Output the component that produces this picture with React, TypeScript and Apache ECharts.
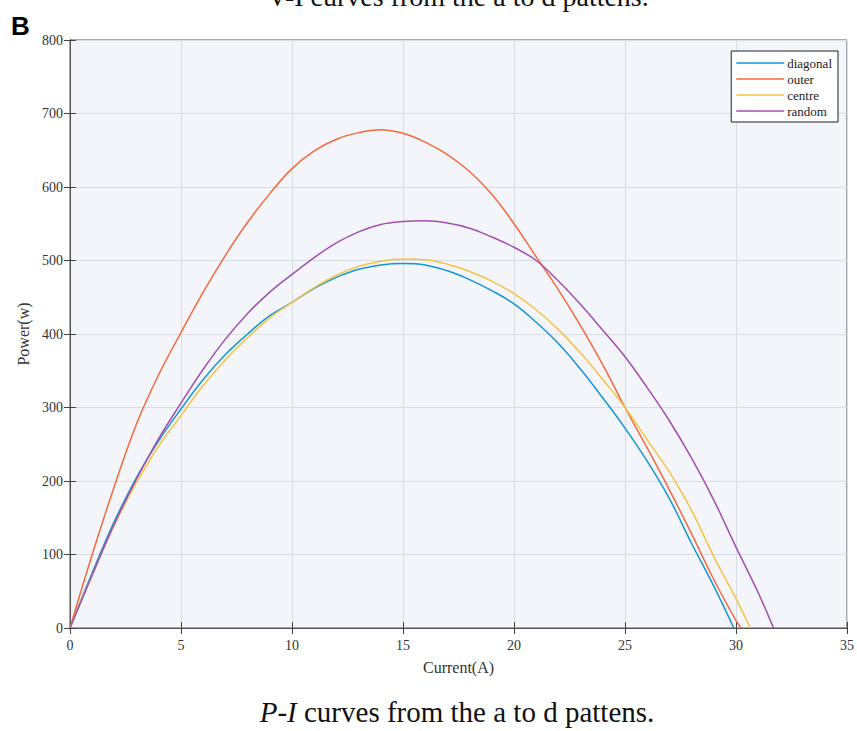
import React, { useEffect, useRef } from "react";
import * as echarts from "echarts";

const diagonalI = [0, 1, 2, 3, 4, 5, 6, 7, 8, 9, 10, 11, 12, 13, 14, 15, 16, 17, 18, 19, 20, 21, 22, 23, 24, 25, 26, 27, 28, 29, 29.9];
const diagonalP = [0, 75, 145, 205, 255, 298, 338, 372, 400, 425, 443, 462, 477, 488, 494, 496, 494, 486, 474, 459, 441, 416, 387, 352, 313, 272, 227, 176, 115, 57, 0];

const outerI = [0, 1, 2, 3, 4, 5, 6, 7, 8, 9, 10, 11, 12, 13, 14, 15, 16, 17, 18, 19, 20, 21, 22, 23, 24, 25, 26, 27, 28, 29, 30, 30.23];
const outerP = [0, 100, 193, 278, 345, 402, 457, 507, 552, 591, 625, 649, 665, 674, 678, 673, 661, 644, 621, 590, 550, 505, 460, 411, 358, 300, 245, 188, 128, 66, 10, 0];

const centreI = [0, 1, 2, 3, 4, 5, 6, 7, 8, 9, 10, 11, 12, 13, 14, 15, 16, 17, 18, 19, 20, 21, 22, 23, 24, 25, 26, 27, 28, 29, 30, 30.64];
const centreP = [0, 72, 140, 198, 248, 289, 330, 365, 395, 422, 443, 463, 480, 492, 499, 502, 501, 495, 485, 472, 455, 433, 406, 374, 338, 300, 256, 212, 160, 97, 40, 0];

const randomI = [0, 1, 2, 3, 4, 5, 6, 7, 8, 9, 10, 11, 12, 13, 14, 15, 16, 17, 18, 19, 20, 21, 22, 23, 24, 25, 26, 27, 28, 29, 30, 31, 31.69];
const randomP = [0, 72, 142, 203, 258, 306, 352, 393, 428, 457, 481, 504, 524, 539, 549, 553, 554, 551, 544, 532, 518, 500, 472, 440, 405, 369, 327, 282, 231, 174, 110, 48, 0];

const seriesNames = ["diagonal", "outer", "centre", "random"];
const seriesColors = ["#1496d4", "#f36a3c", "#f6c244", "#a24fae"];

const xTicks = { min: 0, max: 35, interval: 5 };
const yTicks = { min: 0, max: 800, interval: 100 };

const FONT = "Liberation Serif";

function pairs(xs: number[], ys: number[]) {
  return xs.map((x, i) => [x, ys[i]]);
}

export default function App() {
  const ref = useRef<HTMLDivElement>(null);
  useEffect(() => {
    if (!ref.current) return;
    const chart = echarts.init(ref.current, undefined, { renderer: "svg" });
    const datasets = [
      pairs(diagonalI, diagonalP),
      pairs(outerI, outerP),
      pairs(centreI, centreP),
      pairs(randomI, randomP),
    ];
    const axisLine = { show: true, lineStyle: { color: "#555", width: 1 } };
    const tick = { show: true, inside: true, length: 6, lineStyle: { color: "#444", width: 1 } };
    const split = { show: true, lineStyle: { color: "#d6dde3", width: 1 } };
    chart.setOption({
      animation: false,
      backgroundColor: "#ffffff",
      textStyle: { fontFamily: FONT },
      grid: {
        left: 70,
        right: 10,
        top: 40,
        bottom: 103,
        show: true,
        backgroundColor: "#f3f5fa",
        borderColor: "#555",
        borderWidth: 1,
      },
      legend: {
        data: seriesNames.map((name) => ({ name, icon: "rect" })),
        orient: "vertical",
        right: 19,
        top: 51,
        padding: [5, 6, 4, 5],
        itemGap: 2,
        itemWidth: 48,
        itemHeight: 1.6,
        backgroundColor: "#ffffff",
        borderColor: "#222",
        borderWidth: 1,
        borderRadius: 0,
        textStyle: { fontFamily: FONT, fontSize: 13, lineHeight: 14, color: "#222", padding: [0, 0, 0, -2] },
      },
      xAxis: [
        {
          type: "value",
          ...xTicks,
          name: "Current(A)",
          nameLocation: "middle",
          nameGap: 31,
          nameTextStyle: { fontFamily: FONT, fontSize: 16, color: "#333" },
          axisLine,
          axisTick: tick,
          splitLine: split,
          axisLabel: { fontFamily: FONT, fontSize: 14, color: "#333", margin: 10 },
        },
        {
          type: "value",
          position: "top",
          ...xTicks,
          axisLine,
          axisTick: tick,
          splitLine: { show: false },
          axisLabel: { show: false },
        },
      ],
      yAxis: [
        {
          type: "value",
          ...yTicks,
          name: "Power(w)",
          nameLocation: "middle",
          nameGap: 38,
          nameTextStyle: { fontFamily: FONT, fontSize: 16, color: "#333" },
          axisLine,
          axisTick: tick,
          splitLine: split,
          axisLabel: { fontFamily: FONT, fontSize: 14, color: "#333", margin: 7 },
        },
        {
          type: "value",
          position: "right",
          ...yTicks,
          axisLine,
          axisTick: tick,
          splitLine: { show: false },
          axisLabel: { show: false },
        },
      ],
      series: seriesNames.map((name, i) => ({
        name,
        type: "line",
        data: datasets[i],
        smooth: 0.4,
        symbol: "none",
        color: seriesColors[i],
        lineStyle: { color: seriesColors[i], width: 1.5 },
        z: 3 + i,
      })),
      graphic: [
        {
          type: "text",
          left: 11,
          top: 13,
          style: { text: "B", fontFamily: "Liberation Sans", fontWeight: "bold", fontSize: 26, fill: "#000" },
        },
        {
          type: "text",
          x: 458,
          y: -4,
          style: {
            text: "V-I curves from the a to d pattens.",
            fontFamily: FONT,
            fontSize: 28,
            fill: "#111",
            align: "center",
            verticalAlign: "middle",
          },
        },
        {
          type: "text",
          x: 457,
          y: 712,
          style: {
            text: "{i|P-I} curves from the a to d pattens.",
            fontFamily: FONT,
            fontSize: 29,
            fill: "#111",
            align: "center",
            verticalAlign: "middle",
            rich: { i: { fontFamily: FONT, fontSize: 29, fontStyle: "italic", fill: "#111" } },
          },
        },
      ],
    });
    return () => chart.dispose();
  }, []);
  return (
    <div
      ref={ref}
      style={{ position: "fixed", left: 0, top: 0, width: 857, height: 731, background: "#fff" }}
    />
  );
}
